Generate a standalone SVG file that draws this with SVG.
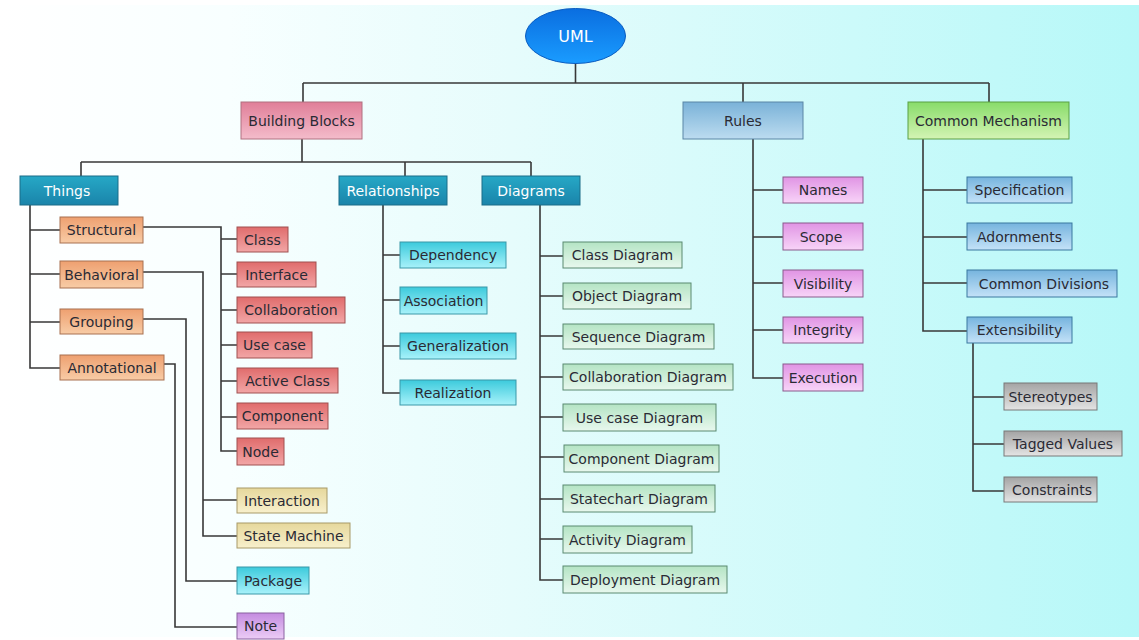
<svg xmlns="http://www.w3.org/2000/svg" width="1139" height="640" viewBox="0 0 1139 640">
<defs>
<linearGradient id="bg" x1="0" y1="0" x2="1" y2="0">
<stop offset="0" stop-color="#ffffff"/><stop offset="0.2" stop-color="#f8ffff"/><stop offset="0.45" stop-color="#e6fcfc"/><stop offset="0.75" stop-color="#ccfafa"/><stop offset="1" stop-color="#b6f8f8"/>
</linearGradient>
<linearGradient id="gUml" x1="0" y1="0" x2="0" y2="1"><stop offset="0" stop-color="#0a6ee0"/><stop offset="1" stop-color="#1a9cff"/></linearGradient>
<linearGradient id="gPink" x1="0" y1="0" x2="0" y2="1"><stop offset="0" stop-color="#e07e98"/><stop offset="1" stop-color="#f4bccb"/></linearGradient>
<linearGradient id="gRules" x1="0" y1="0" x2="0" y2="1"><stop offset="0" stop-color="#7ab2d8"/><stop offset="1" stop-color="#bcdcf0"/></linearGradient>
<linearGradient id="gGreen" x1="0" y1="0" x2="0" y2="1"><stop offset="0" stop-color="#88dc6a"/><stop offset="1" stop-color="#d4f4b4"/></linearGradient>
<linearGradient id="gTeal" x1="0" y1="0" x2="0" y2="1"><stop offset="0" stop-color="#26a8c6"/><stop offset="1" stop-color="#1a84aa"/></linearGradient>
<linearGradient id="gOrange" x1="0" y1="0" x2="0" y2="1"><stop offset="0" stop-color="#eea070"/><stop offset="1" stop-color="#f8cca6"/></linearGradient>
<linearGradient id="gRed" x1="0" y1="0" x2="0" y2="1"><stop offset="0" stop-color="#e06c6c"/><stop offset="1" stop-color="#f2a6a6"/></linearGradient>
<linearGradient id="gYellow" x1="0" y1="0" x2="0" y2="1"><stop offset="0" stop-color="#e6d89c"/><stop offset="1" stop-color="#f8f0cc"/></linearGradient>
<linearGradient id="gCyan" x1="0" y1="0" x2="0" y2="1"><stop offset="0" stop-color="#3ccadc"/><stop offset="1" stop-color="#a8f2fa"/></linearGradient>
<linearGradient id="gPurple" x1="0" y1="0" x2="0" y2="1"><stop offset="0" stop-color="#c48ce0"/><stop offset="1" stop-color="#ecccf6"/></linearGradient>
<linearGradient id="gMint" x1="0" y1="0" x2="0" y2="1"><stop offset="0" stop-color="#b4e4c4"/><stop offset="1" stop-color="#e8f8ee"/></linearGradient>
<linearGradient id="gMagenta" x1="0" y1="0" x2="0" y2="1"><stop offset="0" stop-color="#e094e4"/><stop offset="1" stop-color="#f8d4f8"/></linearGradient>
<linearGradient id="gBlue" x1="0" y1="0" x2="0" y2="1"><stop offset="0" stop-color="#76b4de"/><stop offset="1" stop-color="#c4e2f8"/></linearGradient>
<linearGradient id="gGrey" x1="0" y1="0" x2="0" y2="1"><stop offset="0" stop-color="#a4a4a4"/><stop offset="1" stop-color="#e4e4e4"/></linearGradient>
</defs>
<style>
text{font-family:"DejaVu Sans",Verdana,sans-serif;font-size:14px;text-anchor:middle;fill:#2a2a34}
.w{fill:#ffffff}
.big{font-size:16px}
.c{fill:none;stroke:#383838;stroke-width:1.6}
rect{stroke-width:1}
.pink{fill:url(#gPink);stroke:#b07080}
.rules{fill:url(#gRules);stroke:#5a86a6}
.green{fill:url(#gGreen);stroke:#5aa044}
.teal{fill:url(#gTeal);stroke:#1a6c88}
.orange{fill:url(#gOrange);stroke:#a87050}
.red{fill:url(#gRed);stroke:#a05050}
.yellow{fill:url(#gYellow);stroke:#a89a68}
.cyan{fill:url(#gCyan);stroke:#3a98a8}
.purple{fill:url(#gPurple);stroke:#8a62a0}
.mint{fill:url(#gMint);stroke:#5a8a70}
.magenta{fill:url(#gMagenta);stroke:#8a5a8c}
.blue{fill:url(#gBlue);stroke:#3a78a0}
.grey{fill:url(#gGrey);stroke:#787878}
</style>
<rect x="0" y="0" width="1139" height="640" fill="url(#bg)" stroke="none"/>
<rect x="0" y="0" width="1139" height="5" fill="#ffffff" stroke="none"/>
<rect x="0" y="637" width="1139" height="3" fill="#ffffff" stroke="none"/>

<g id="connectors">
<path class="c" d="M575.5,63V83M303,83H989M303,83V102M743,83V102M989,83V102"/>
<path class="c" d="M302,139V162M81,162H531M81,162V176M405,162V176M531,162V176"/>
<path class="c" d="M30,205V368H60M30,230H60M30,274H60M30,322H60"/>
<path class="c" d="M143,227H221V451H237M221,239H237M221,274H237M221,310H237M221,345H237M221,381H237M221,417H237"/>
<path class="c" d="M143,272H203V536H237M203,500H237"/>
<path class="c" d="M143,319H186V581H237"/>
<path class="c" d="M164,364H175V627H237"/>
<path class="c" d="M383,205V393H400M383,255H400M383,300H400M383,346H400"/>
<path class="c" d="M540,205V580H563M540,256H563M540,296H563M540,336H563M540,377H563M540,417H563M540,457H564M540,499H563M540,539H563"/>
<path class="c" d="M753,139V378H783M753,190H783M753,237H783M753,283H783M753,330H783"/>
<path class="c" d="M923,139V331H967M923,190H967M923,237H967M923,283H967"/>
<path class="c" d="M973,343V491H1004M973,397H1004M973,444H1004"/>
</g>

<g id="uml"><ellipse cx="575.5" cy="36" rx="50" ry="27.5" fill="url(#gUml)" stroke="#0a5cc0" stroke-width="1"/><text class="w big" x="575.5" y="42">UML</text></g>

<g id="building-blocks"><rect class="pink" x="241" y="102" width="121" height="37"/><text x="301.5" y="125.5">Building Blocks</text></g>
<g id="rules"><rect class="rules" x="683" y="102" width="120" height="37"/><text x="743" y="125.5">Rules</text></g>
<g id="common-mechanism"><rect class="green" x="908" y="102" width="161" height="37"/><text x="988.5" y="125.5">Common Mechanism</text></g>

<g id="things"><rect class="teal" x="20" y="176" width="98" height="29"/><text class="w" x="67" y="195.5">Things</text></g>
<g id="relationships"><rect class="teal" x="339" y="176" width="108" height="29"/><text class="w" x="393" y="195.5">Relationships</text></g>
<g id="diagrams"><rect class="teal" x="482" y="176" width="98" height="29"/><text class="w" x="531" y="195.5">Diagrams</text></g>

<g id="structural"><rect class="orange" x="60" y="217" width="83" height="26"/><text x="101.5" y="235">Structural</text></g>
<g id="behavioral"><rect class="orange" x="60" y="261" width="83" height="27"/><text x="101.5" y="279.5">Behavioral</text></g>
<g id="grouping"><rect class="orange" x="60" y="309" width="83" height="25"/><text x="101.5" y="326.5">Grouping</text></g>
<g id="annotational"><rect class="orange" x="60" y="355" width="104" height="25"/><text x="112" y="372.5">Annotational</text></g>

<g id="class"><rect class="red" x="237" y="227" width="51" height="25"/><text x="262.5" y="244.5">Class</text></g>
<g id="interface"><rect class="red" x="237" y="262" width="79" height="25"/><text x="276.5" y="279.5">Interface</text></g>
<g id="collaboration"><rect class="red" x="237" y="297" width="108" height="26"/><text x="291" y="315">Collaboration</text></g>
<g id="use-case"><rect class="red" x="237" y="332" width="75" height="26"/><text x="274.5" y="350">Use case</text></g>
<g id="active-class"><rect class="red" x="237" y="368" width="101" height="25"/><text x="287.5" y="385.5">Active Class</text></g>
<g id="component"><rect class="red" x="237" y="403" width="91" height="26"/><text x="282.5" y="421">Component</text></g>
<g id="node"><rect class="red" x="237" y="438" width="47" height="27"/><text x="260.5" y="456.5">Node</text></g>

<g id="interaction"><rect class="yellow" x="237" y="488" width="90" height="25"/><text x="282" y="505.5">Interaction</text></g>
<g id="state-machine"><rect class="yellow" x="237" y="523" width="113" height="25"/><text x="293.5" y="540.5">State Machine</text></g>
<g id="package"><rect class="cyan" x="237" y="567" width="72" height="27"/><text x="273" y="585.5">Package</text></g>
<g id="note"><rect class="purple" x="237" y="613" width="47" height="26"/><text x="260.5" y="631">Note</text></g>

<g id="dependency"><rect class="cyan" x="400" y="242" width="106" height="26"/><text x="453" y="260">Dependency</text></g>
<g id="association"><rect class="cyan" x="400" y="287" width="87" height="27"/><text x="443.5" y="305.5">Association</text></g>
<g id="generalization"><rect class="cyan" x="400" y="333" width="116" height="26"/><text x="458" y="351">Generalization</text></g>
<g id="realization"><rect class="cyan" x="400" y="380" width="116" height="25"/><text x="453" y="397.5">Realization</text></g>

<g id="class-diagram"><rect class="mint" x="563" y="242" width="119" height="26"/><text x="622.5" y="260">Class Diagram</text></g>
<g id="object-diagram"><rect class="mint" x="563" y="283" width="128" height="26"/><text x="627" y="301">Object Diagram</text></g>
<g id="sequence-diagram"><rect class="mint" x="563" y="324" width="151" height="25"/><text x="638.5" y="341.5">Sequence Diagram</text></g>
<g id="collaboration-diagram"><rect class="mint" x="563" y="364" width="170" height="26"/><text x="648" y="382">Collaboration Diagram</text></g>
<g id="use-case-diagram"><rect class="mint" x="563" y="404" width="153" height="27"/><text x="639.5" y="422.5">Use case Diagram</text></g>
<g id="component-diagram"><rect class="mint" x="564" y="445" width="155" height="27"/><text x="641.5" y="463.5">Component Diagram</text></g>
<g id="statechart-diagram"><rect class="mint" x="563" y="485" width="152" height="27"/><text x="639" y="503.5">Statechart Diagram</text></g>
<g id="activity-diagram"><rect class="mint" x="563" y="526" width="129" height="27"/><text x="627.5" y="544.5">Activity Diagram</text></g>
<g id="deployment-diagram"><rect class="mint" x="563" y="566" width="164" height="27"/><text x="645" y="584.5">Deployment Diagram</text></g>

<g id="names"><rect class="magenta" x="783" y="177" width="80" height="26"/><text x="823" y="195">Names</text></g>
<g id="scope"><rect class="magenta" x="783" y="223" width="80" height="27"/><text x="821" y="241.5">Scope</text></g>
<g id="visibility"><rect class="magenta" x="783" y="270" width="80" height="27"/><text x="823" y="288.5">Visibility</text></g>
<g id="integrity"><rect class="magenta" x="783" y="317" width="80" height="26"/><text x="823" y="335">Integrity</text></g>
<g id="execution"><rect class="magenta" x="783" y="364" width="80" height="27"/><text x="823" y="382.5">Execution</text></g>

<g id="specification"><rect class="blue" x="967" y="177" width="105" height="26"/><text x="1019.5" y="195">Specification</text></g>
<g id="adornments"><rect class="blue" x="967" y="223" width="105" height="27"/><text x="1019.5" y="241.5">Adornments</text></g>
<g id="common-divisions"><rect class="blue" x="967" y="270" width="150" height="27"/><text x="1044" y="288.5">Common Divisions</text></g>
<g id="extensibility"><rect class="blue" x="967" y="317" width="105" height="26"/><text x="1019.5" y="335">Extensibility</text></g>

<g id="stereotypes"><rect class="grey" x="1004" y="383" width="93" height="27"/><text x="1050.5" y="401.5">Stereotypes</text></g>
<g id="tagged-values"><rect class="grey" x="1004" y="431" width="118" height="25"/><text x="1063" y="448.5">Tagged Values</text></g>
<g id="constraints"><rect class="grey" x="1004" y="477" width="93" height="25"/><text x="1052" y="494.5">Constraints</text></g>
</svg>
